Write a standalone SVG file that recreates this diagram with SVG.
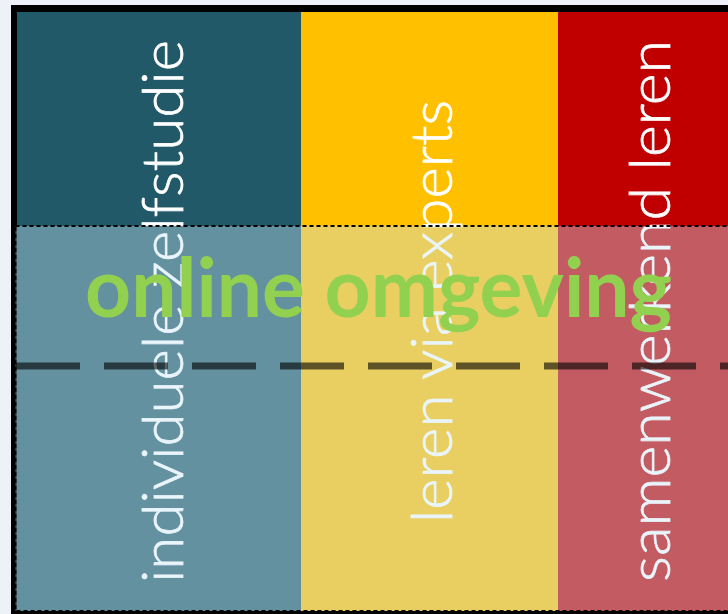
<svg xmlns="http://www.w3.org/2000/svg" width="728" height="614" viewBox="0 0 728 614">
  <style>
    .lbl { font-family: Lato, "Open Sans", "Liberation Sans", sans-serif; font-weight: 300; font-size: 58px; fill: #ffffff; stroke: #ffffff; stroke-width: 0.7px; }
    .big { font-family: Lato, "Open Sans", "Liberation Sans", sans-serif; font-weight: 700; font-size: 83px; fill: #92d050; }
  </style>
  <rect x="0" y="0" width="728" height="614" fill="#eef2f8"/>
  <rect id="frame" x="11" y="5" width="730" height="620" fill="#000000"/>
  <g id="col-individueel">
    <rect x="17" y="12" width="284" height="599" fill="#215968"/>
    <text class="lbl" transform="translate(183,583) rotate(-90)" textLength="543" lengthAdjust="spacingAndGlyphs">individuele zelfstudie</text>
  </g>
  <g id="col-experts">
    <rect x="301" y="12" width="257" height="599" fill="#ffc000"/>
    <text class="lbl" transform="translate(452,523) rotate(-90)" textLength="423" lengthAdjust="spacingAndGlyphs">leren via experts</text>
  </g>
  <g id="col-samenwerkend">
    <rect x="558" y="12" width="180" height="599" fill="#c00000"/>
    <text class="lbl" transform="translate(670,582) rotate(-90)" textLength="542" lengthAdjust="spacingAndGlyphs">samenwerkend leren</text>
  </g>
  <g id="online-omgeving">
    <rect x="15.5" y="226" width="720" height="385" fill="#c8e7f6" fill-opacity="0.4" stroke="#000000" stroke-width="1.8" stroke-dasharray="4 3"/>
    <text class="big" x="85" y="317" textLength="587" lengthAdjust="spacingAndGlyphs">online omgeving</text>
  </g>
  <g id="connectors">
    <line x1="16" y1="366" x2="728" y2="366" stroke="#000000" stroke-opacity="0.6" stroke-width="7" stroke-dasharray="64 24"/>
  </g>
</svg>
